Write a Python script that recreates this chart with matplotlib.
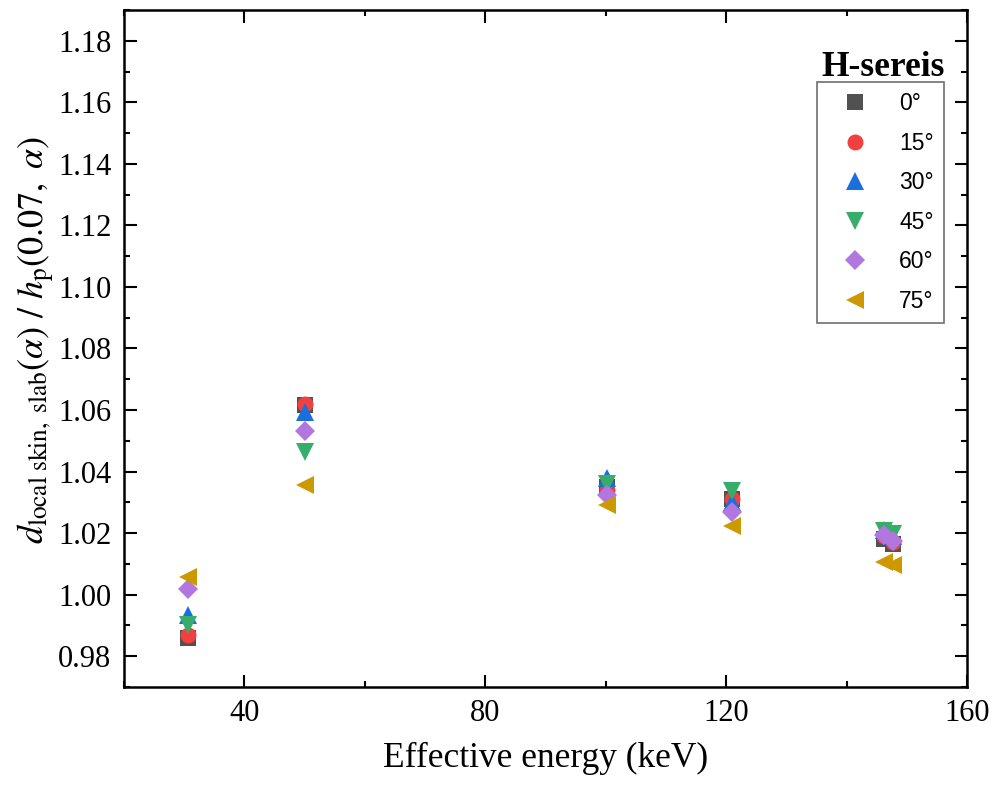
import numpy as np
import matplotlib.pyplot as plt
from matplotlib.ticker import MultipleLocator

plt.rcParams['mathtext.fontset'] = 'stix'
plt.rcParams['font.family'] = 'Liberation Serif'

# effective energies (keV); the last group was measured at two energies
energy = [30.7, 50.0, 100.2, 120.9, 146.2, 147.7]

ratio_0 = [0.9858, 1.0615, 1.0350, 1.0310, 1.0180, 1.0165]
ratio_15 = [0.9868, 1.0620, 1.0340, 1.0312, 1.0190, 1.0172]
ratio_30 = [0.9935, 1.0595, 1.0380, 1.0300, 1.0210, 1.0190]
ratio_45 = [0.9902, 1.0465, 1.0360, 1.0338, 1.0208, 1.0198]
ratio_60 = [1.0018, 1.0533, 1.0325, 1.0267, 1.0193, 1.0174]
ratio_75 = [1.0058, 1.0355, 1.0290, 1.0222, 1.0106, 1.0098]

angles = ['0°', '15°', '30°', '45°', '60°', '75°']
series = [ratio_0, ratio_15, ratio_30, ratio_45, ratio_60, ratio_75]
markers = ['s', 'o', '^', 'v', 'D', '<']
sizes = [11, 11.5, 13, 13, 10, 13]
colors = ['#515151', '#F14040', '#1A6FDF', '#37AD6B', '#B177DE', '#CC9900']

yticks = np.arange(0.98, 1.181, 0.02)


def main():
    fig = plt.figure(figsize=(9.96, 7.92), dpi=100)
    ax = fig.add_axes([0.1245, 0.1326, 0.8464, 0.8548])

    for lab, vals, mk, ms, c in zip(angles, series, markers, sizes, colors):
        ax.plot(energy, vals, ls='none', marker=mk, ms=ms, color=c,
                markeredgewidth=0, label=lab)

    ax.set_xlim(20, 160)
    ax.set_ylim(0.97, 1.19)
    ax.xaxis.set_minor_locator(MultipleLocator(20))
    ax.set_xticks([40, 80, 120, 160])
    ax.yaxis.set_minor_locator(MultipleLocator(0.01))
    ax.set_yticks(yticks)
    ax.set_yticklabels([f'{v:.2f}' for v in yticks])

    ax.tick_params(which='both', direction='in', top=True, right=True,
                   width=1.5, labelsize=22)
    ax.tick_params(which='major', length=9, pad=9)
    ax.tick_params(which='minor', length=4.5)
    for sp in ax.spines.values():
        sp.set_linewidth(1.8)

    ax.set_xlabel('Effective energy (keV)', fontsize=25.5, labelpad=10)
    ax.set_ylabel(r'$d_{\mathrm{local\ skin,\ slab}}(\alpha)\ /\ '
                  r'h_{\mathrm{p}}(0.07,\ \alpha)$', fontsize=26)
    ax.yaxis.set_label_coords(-0.079, 0.513)

    leg = ax.legend(loc='upper right', bbox_to_anchor=(0.973, 0.894),
                    borderaxespad=0, numpoints=1, fancybox=False,
                    prop={'family': 'Liberation Sans', 'size': 16.5},
                    labelspacing=0.72, handlelength=2.4, handletextpad=0.75,
                    borderpad=0.45)
    leg.get_frame().set_edgecolor('#707070')
    leg.get_frame().set_linewidth(1.2)
    leg.get_frame().set_alpha(1)
    ax.text(0.9, 0.9025, 'H-sereis', transform=ax.transAxes, ha='center',
            va='baseline', fontsize=25.5, fontweight='bold')

    plt.savefig('out.png', dpi=100)


if __name__ == '__main__':
    main()
